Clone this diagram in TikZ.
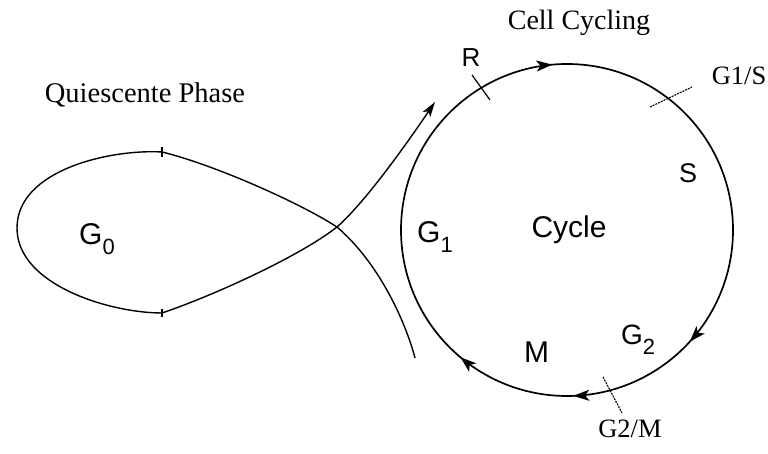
\documentclass[tikz,border=0pt]{standalone}
\usepackage{fontspec}
\setmainfont{Liberation Serif}
\newfontfamily\lsans{Liberation Sans}
\usetikzlibrary{arrows.meta,decorations.markings}
\begin{document}
\begin{tikzpicture}[x=1pt,y=1pt,
  seriflab/.style={font=\fontsize{#1}{#1}\selectfont, inner sep=0pt, anchor=base},
  sanslab/.style={font=\lsans\fontsize{#1}{#1}\selectfont, inner sep=0pt, anchor=base west},
  cyc/.style={line width=1.7pt},
  loopline/.style={line width=1.4pt},
  tickmark/.style={line width=1.2pt},
  phase/.style={line width=1.1pt, dash pattern=on 2pt off 1pt},
  cyctip/.tip={Stealth[length=16pt, width=11pt, inset=4pt]},
  looptip/.tip={Stealth[length=15pt, width=9pt, inset=3.5pt]}
]
\useasboundingbox (0,0) rectangle (768,454);
% texts
\node[seriflab=28] (cellcyc) at (579,424) {Cell Cycling};
\node[seriflab=28.5] (quies) at (145,351) {Quiescente Phase};
\node[seriflab=26.5] (gis) at (739,369) {G1/S};
\node[seriflab=26.5] (gtm) at (630,16) {G2/M};
\node[sanslab=26, anchor=base] (r) at (471,387) {R};
\node[sanslab=27, anchor=base] (s) at (688,271) {S};
\node[sanslab=30, anchor=base] (cycle) at (569,216) {Cycle};
\node[sanslab=30] (m) at (524,91) {M};
\node[sanslab=30] (g0) at (79,209) {G\raisebox{-10pt}{\fontsize{22}{22}\selectfont 0}};
\node[sanslab=30] (g1) at (417,211) {G\raisebox{-10pt}{\fontsize{22}{22}\selectfont 1}};
\node[sanslab=28] (g2) at (621,109) {G\raisebox{-10pt}{\fontsize{22}{22}\selectfont 2}};
% cycle circle
\coordinate (cc) at (567,224);
\draw[cyc, postaction={decorate}, decoration={markings,
    mark=at position 0.236 with {\arrow{cyctip}},
    mark=at position 0.6175 with {\arrow{cyctip}},
    mark=at position 0.744 with {\arrow{cyctip}},
    mark=at position 0.861 with {\arrow{cyctip}}}]
  (cc) ++(180:166) arc[start angle=180, end angle=-180, radius=166];
% ticks on circle
\coordinate (ra) at (472,379); \coordinate (rb) at (490,354);
\draw[tickmark] (ra) -- (rb);
\coordinate (sa) at (650,347); \coordinate (sb) at (692,367);
\draw[phase] (sa) -- (sb);
\coordinate (ma) at (603,77); \coordinate (mb) at (622,41);
\draw[phase] (ma) -- (mb);
% quiescent loop
\coordinate (start) at (415,96);
\coordinate (cross) at (337,227);
\coordinate (ttop) at (162,302);
\coordinate (lft) at (17,226);
\coordinate (tbot) at (162,141);
\coordinate (entry) at (435,352);
\draw[loopline, -looptip]
  (start) .. controls (405,134) and (378,192) .. (cross)
          .. controls (300,251) and (215,289) .. (ttop)
          .. controls (110,305) and (17,284) .. (lft)
          .. controls (17,169) and (110,141) .. (tbot)
          .. controls (215,159) and (300,198) .. (cross)
          .. controls (370,256) and (420,330) .. (entry);
\draw[tickmark] (ttop) ++(0,-5) -- ++(0,10);
\draw[tickmark] (tbot) ++(0,-4) -- ++(0,8);
\end{tikzpicture}
\end{document}
